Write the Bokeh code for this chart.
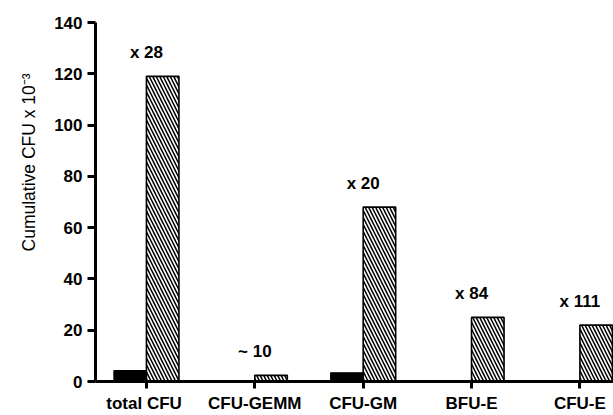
from bokeh.plotting import figure
from bokeh.models import Range1d, FixedTicker, ColumnDataSource, Title
from bokeh.embed import file_html
from bokeh.resources import INLINE
from bokeh.core.properties import value

categories = ["total  CFU", "CFU-GEMM", "CFU-GM", "BFU-E", "CFU-E"]
control = [4.25, 0.24, 3.4, 0.3, 0.2]
expanded = [119, 2.4, 68, 25, 22]
fold_labels = ["x 28", "~ 10", "x 20", "x 84", "x 111"]
y_ticks = [0, 20, 40, 60, 80, 100, 120, 140]
y_title = "Cumulative  CFU x 10\u207b\u00b3"

xs = list(range(len(categories)))
src = ColumnDataSource(dict(
    x=xs,
    xl=[x - 0.15 for x in xs],
    xr=[x + 0.15 for x in xs],
    control=control,
    expanded=expanded,
    lab=fold_labels,
))

FONT = "Liberation Sans"

p = figure(width=613, height=415, output_backend="svg", toolbar_location=None,
           x_range=Range1d(-0.47, 4.31), y_range=Range1d(0, 140),
           min_border_left=95, min_border_right=0, min_border_top=22, min_border_bottom=32)
p.outline_line_color = None
p.xgrid.grid_line_color = None
p.ygrid.grid_line_color = None

p.vbar(x="xl", top="control", width=0.3, bottom=0, source=src,
       fill_color="black", line_color="black", line_width=1.2)
p.vbar(x="xr", top="expanded", width=0.3, bottom=0, source=src,
       fill_color="white", line_color="black", line_width=1.6,
       hatch_pattern="\\", hatch_color="black", hatch_scale=7, hatch_weight=1.5)

p.text(x="x", y="expanded", text="lab", source=src, y_offset=-24,
       text_align="center", text_baseline="middle",
       text_font=value(FONT), text_font_style="bold", text_font_size="17px",
       text_color="black")

# y axis title, placed off-centre (towards the top) as in the original
p.add_layout(Title(text=y_title, align="right", offset=46, standoff=25,
                   text_font=FONT, text_font_style="normal",
                   text_font_size="17.5px", text_color="black"), "left")

# y axis
ya = p.yaxis[0]
ya.ticker = FixedTicker(ticks=y_ticks)
ya.minor_tick_line_color = None
ya.major_tick_in = 0
ya.major_tick_out = 8
ya.major_tick_line_width = 3
ya.axis_line_width = 3
ya.major_label_text_font = FONT
ya.major_label_text_font_style = "bold"
ya.major_label_text_font_size = "17px"
ya.major_label_text_color = "black"
ya.major_label_standoff = 5

# x axis
xa = p.xaxis[0]
xa.ticker = FixedTicker(ticks=xs)
xa.major_label_overrides = {i: c for i, c in enumerate(categories)}
xa.minor_tick_line_color = None
xa.major_tick_in = 0
xa.major_tick_out = 7
xa.major_tick_line_width = 3
xa.axis_line_width = 3
xa.major_label_text_font = FONT
xa.major_label_text_font_style = "bold"
xa.major_label_text_font_size = "17px"
xa.major_label_text_color = "black"
xa.major_label_standoff = 5

open("out.html", "w").write(file_html(p, INLINE))
